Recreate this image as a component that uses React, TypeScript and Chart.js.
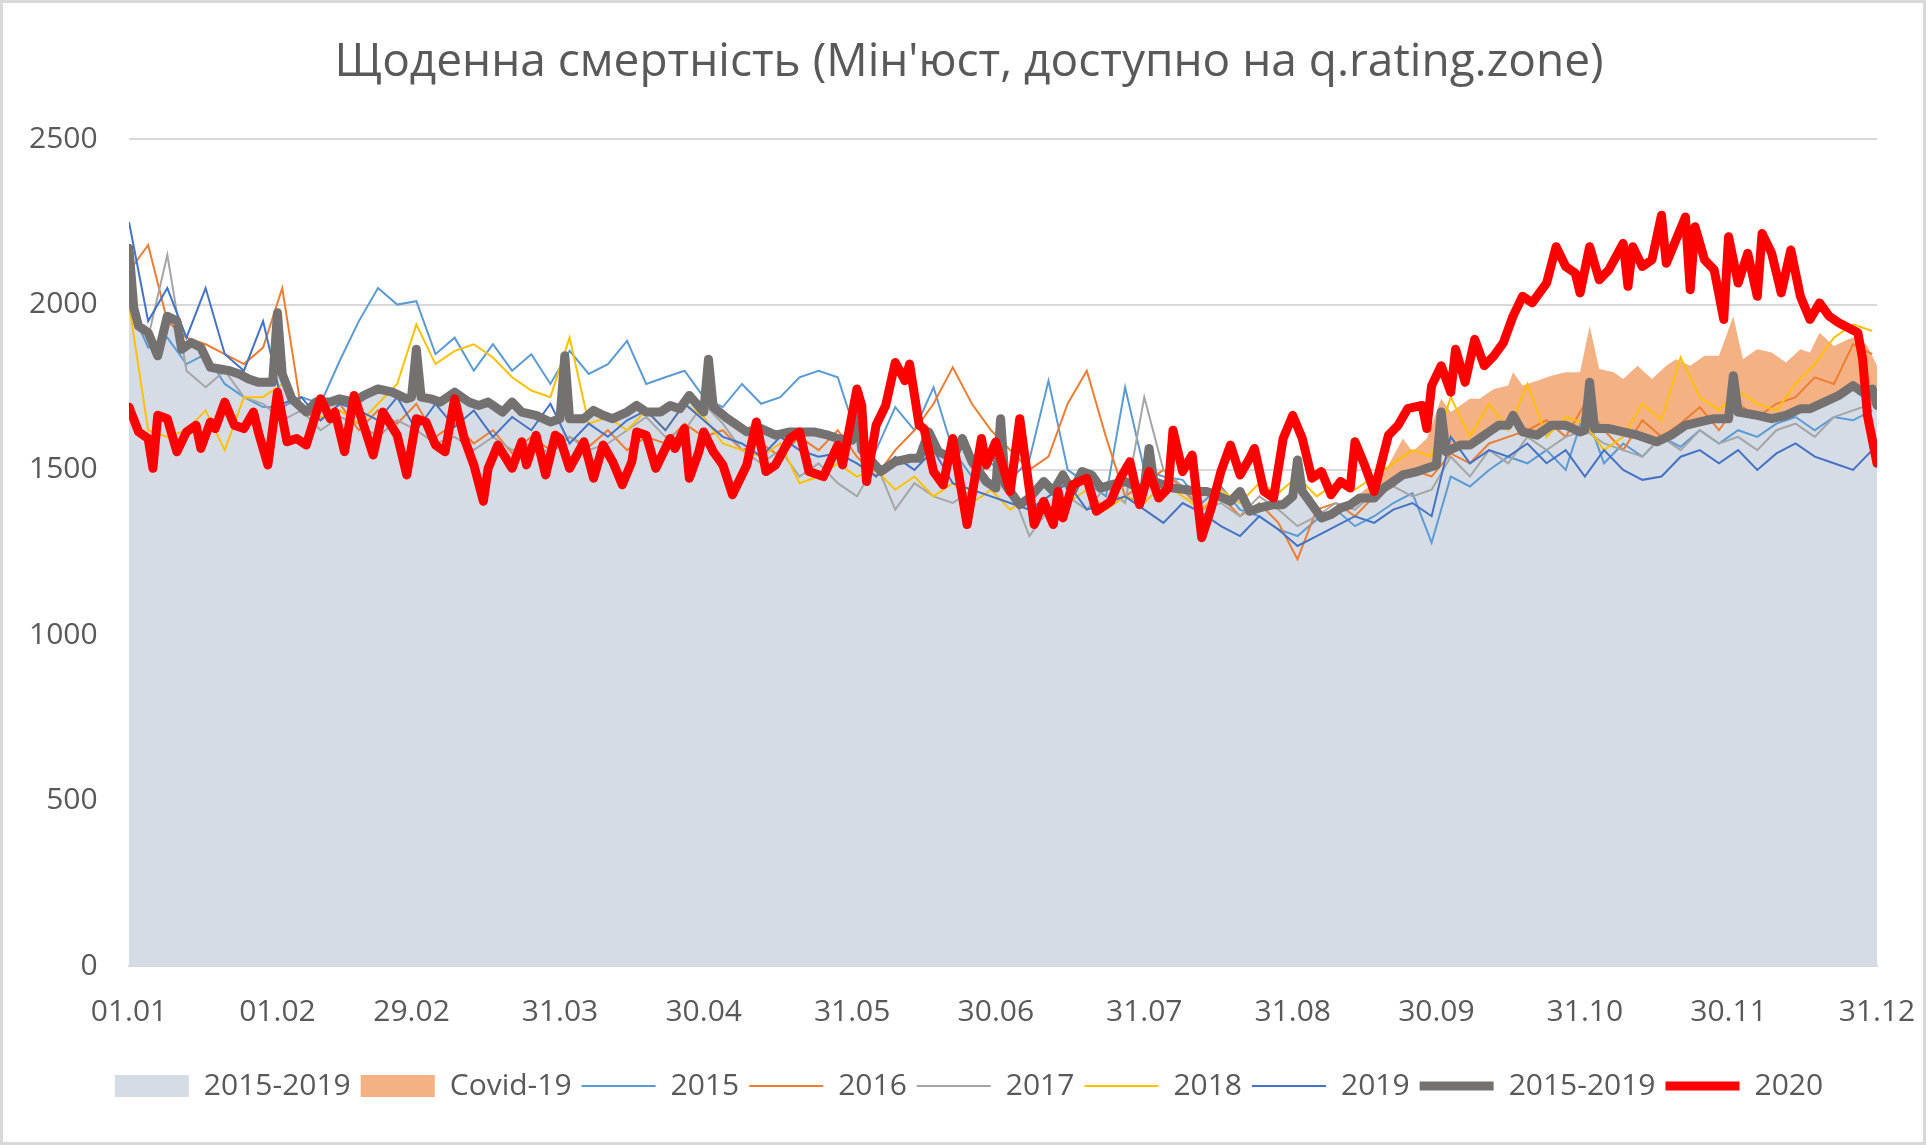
import { useEffect, useRef } from 'react';
import Chart from 'chart.js/auto';

// x axis: day of 2020 (0 = 01.01)
const tickDays = [0, 31, 59, 90, 120, 151, 181, 212, 243, 273, 304, 334, 365];
const tickLabels = ['01.01', '01.02', '29.02', '31.03', '30.04', '31.05', '30.06', '31.07', '31.08', '30.09', '31.10', '30.11', '31.12'];

// 2015-2019 average (area + thick line)
const avgDays = [
  0, 1, 2, 4, 6, 8, 10, 11, 13, 15, 17, 19, 21, 23, 25, 27, 30, 31, 32, 34, 37, 39, 42, 44, 47, 49, 52, 55, 58, 59,
  60, 61, 63, 65, 68, 71, 73, 75, 78, 80, 82, 85, 88, 90, 91, 92, 95, 97, 99, 101, 104, 106, 108, 111, 113, 115, 117, 120, 121, 122,
  125, 127, 129, 132, 135, 138, 140, 143, 146, 148, 151, 152, 153, 157, 160, 163, 165, 167, 169, 172, 174, 176, 179, 181, 182, 183, 186, 188, 191, 193,
  195, 197, 199, 201, 203, 205, 208, 211, 212, 213, 214, 218, 221, 223, 225, 227, 230, 232, 234, 236, 239, 241, 243, 244, 245, 249, 251, 253, 255, 257,
  260, 262, 264, 266, 269, 271, 273, 274, 275, 278, 280, 282, 284, 286, 288, 289, 291, 294, 297, 300, 303, 304, 305, 306, 309, 312, 315, 317, 319, 322,
  325, 328, 331, 334, 335, 336, 340, 343, 346, 349, 351, 354, 357, 360, 362, 364, 365
];
const avgValues = [
  2170, 1990, 1935, 1915, 1845, 1965, 1950, 1865, 1885, 1870, 1810, 1805, 1800, 1790, 1775, 1765, 1765, 1975, 1790, 1715, 1675, 1705, 1705, 1715, 1705, 1725, 1745, 1735, 1715, 1720,
  1865, 1720, 1715, 1705, 1735, 1705, 1695, 1705, 1675, 1705, 1675, 1665, 1645, 1655, 1845, 1655, 1655, 1680, 1665, 1655, 1675, 1695, 1675, 1675, 1695, 1685, 1725, 1675, 1835, 1690,
  1655, 1635, 1615, 1625, 1605, 1615, 1615, 1615, 1605, 1595, 1590, 1715, 1560, 1495, 1525, 1535, 1535, 1615, 1555, 1535, 1595, 1525, 1465, 1445, 1655, 1455, 1395, 1415, 1465, 1435,
  1485, 1435, 1495, 1485, 1445, 1455, 1465, 1445, 1450, 1565, 1465, 1445, 1440, 1435, 1435, 1425, 1405, 1435, 1375, 1385, 1395, 1395, 1420, 1530, 1435, 1355, 1365, 1385, 1395, 1415,
  1415, 1445, 1465, 1485, 1495, 1505, 1515, 1675, 1555, 1575, 1575, 1595, 1615, 1635, 1635, 1665, 1615, 1605, 1635, 1635, 1615, 1620, 1765, 1625, 1625, 1615, 1605, 1595, 1585, 1605,
  1635, 1645, 1655, 1655, 1785, 1675, 1665, 1655, 1665, 1685, 1685, 1705, 1725, 1755, 1735, 1745, 1695
];

// Covid-19 band top (average + reported covid deaths)
const covidDays = [
  250, 255, 258, 261, 263, 266, 268, 271, 274, 276, 278, 280, 282, 285, 288, 289, 291, 294, 297, 300, 303, 305, 307, 310, 312, 315, 318,
  321, 323, 326, 329, 332, 335, 337, 340, 343, 346, 349, 351, 353, 356, 359, 361, 363, 365
];
const covidTop = [
  1370, 1400, 1440, 1470, 1515, 1595, 1555, 1595, 1715, 1675, 1695, 1715, 1715, 1745, 1755, 1795, 1755, 1770, 1785, 1795, 1795, 1935, 1805, 1795, 1775, 1815, 1775,
  1815, 1835, 1815, 1845, 1845, 1965, 1835, 1865, 1855, 1825, 1865, 1855, 1915, 1875, 1895, 1905, 1875, 1815
];

// single years, sampled every 4 days
const yearDays = Array.from({ length: 92 }, (_, i) => i * 4);
const y2015 = [
  2000, 1870, 1900, 1820, 1850, 1760, 1720, 1690, 1690, 1720, 1700, 1830, 1950, 2050, 2000, 2010, 1850, 1900, 1800, 1880,
  1800, 1850, 1760, 1860, 1790, 1820, 1890, 1760, 1780, 1800, 1720, 1690, 1760, 1700, 1720, 1780, 1800, 1780, 1600, 1560,
  1690, 1620, 1750, 1560, 1480, 1520, 1470, 1530, 1770, 1500, 1460, 1420, 1750, 1500, 1480, 1470, 1400, 1450, 1380, 1360,
  1320, 1300, 1350, 1380, 1330, 1360, 1400, 1430, 1280, 1480, 1450, 1500, 1540, 1520, 1560, 1500, 1680, 1520, 1580, 1540,
  1600, 1570, 1620, 1580, 1620, 1600, 1640, 1660, 1620, 1660, 1650, 1680
];
const y2016 = [
  2100, 2180, 1950, 1900, 1880, 1850, 1820, 1870, 2050, 1680, 1650, 1700, 1620, 1680, 1640, 1700, 1600, 1640, 1580, 1620,
  1550, 1600, 1560, 1600, 1570, 1620, 1560, 1600, 1580, 1640, 1600, 1620, 1560, 1580, 1540, 1600, 1560, 1620, 1540, 1480,
  1560, 1620, 1700, 1810, 1700, 1620, 1560, 1500, 1540, 1700, 1800, 1600, 1420, 1460, 1500, 1440, 1380, 1420, 1360, 1400,
  1340, 1230, 1380, 1400, 1360, 1420, 1450, 1500, 1480, 1550, 1520, 1580, 1600, 1620, 1650, 1600, 1700, 1620, 1560, 1650,
  1600, 1640, 1690, 1620, 1700, 1660, 1700, 1720, 1780, 1760, 1880, 1850
];
const y2017 = [
  2000, 1900, 2150, 1800, 1750, 1800, 1720, 1700, 1650, 1680, 1620, 1660, 1640, 1600, 1650, 1620, 1580, 1600, 1560, 1600,
  1560, 1580, 1550, 1600, 1560, 1580, 1620, 1660, 1600, 1620, 1700, 1640, 1560, 1520, 1560, 1480, 1520, 1460, 1420, 1520,
  1380, 1460, 1420, 1400, 1440, 1580, 1450, 1300, 1380, 1420, 1380, 1450, 1400, 1720, 1500, 1450, 1380, 1400, 1360, 1420,
  1380, 1330, 1360, 1400, 1380, 1430, 1450, 1420, 1440, 1540, 1480, 1560, 1520, 1600, 1560, 1600, 1620, 1580, 1560, 1540,
  1600, 1560, 1620, 1580, 1600, 1560, 1620, 1640, 1600, 1660, 1680, 1700
];
const y2018 = [
  2000, 1620, 1600, 1620, 1680, 1560, 1720, 1720, 1760, 1700, 1660, 1680, 1640, 1700, 1760, 1940, 1820, 1860, 1880, 1840,
  1780, 1740, 1720, 1900, 1640, 1660, 1620, 1680, 1620, 1700, 1660, 1580, 1560, 1540, 1580, 1460, 1480, 1520, 1480, 1500,
  1440, 1480, 1420, 1460, 1400, 1440, 1380, 1420, 1460, 1400, 1440, 1380, 1420, 1400, 1460, 1420, 1380, 1440, 1400, 1460,
  1430, 1480, 1420, 1460, 1440, 1480, 1520, 1560, 1540, 1720, 1600, 1700, 1620, 1760, 1600, 1660, 1640, 1560, 1600, 1700,
  1650, 1840, 1720, 1680, 1740, 1700, 1680, 1760, 1820, 1900, 1940, 1920
];
const y2019 = [
  2250, 1950, 2050, 1900, 2050, 1850, 1800, 1950, 1700, 1720, 1650, 1700, 1680, 1650, 1720, 1620, 1700, 1630, 1680, 1600,
  1660, 1620, 1700, 1580, 1640, 1600, 1650, 1680, 1620, 1700, 1650, 1600, 1580, 1540, 1600, 1560, 1540, 1550, 1520, 1480,
  1540, 1500, 1560, 1460, 1440, 1420, 1400, 1380, 1420, 1460, 1380, 1400, 1420, 1380, 1340, 1400, 1370, 1330, 1300, 1360,
  1320, 1270, 1300, 1330, 1360, 1340, 1380, 1400, 1360, 1600, 1520, 1560, 1540, 1580, 1520, 1560, 1480, 1560, 1500, 1470,
  1480, 1540, 1560, 1520, 1560, 1500, 1550, 1580, 1540, 1520, 1500, 1560
];

// 2020
const days2020 = [
  0, 2, 4, 5, 6, 8, 10, 12, 14, 15, 17, 18, 20, 22, 24, 26, 27, 29, 31, 33, 35, 37, 40, 42, 43, 45, 47, 49, 51, 53,
  56, 58, 60, 62, 64, 66, 68, 70, 72, 74, 75, 77, 80, 82, 83, 85, 87, 89, 90, 92, 95, 97, 99, 101, 103, 105, 106, 108, 110, 113,
  114, 116, 117, 119, 120, 122, 124, 126, 129, 131, 133, 135, 138, 140, 142, 145, 148, 149, 152, 153, 154, 156, 158, 160, 162, 163, 165, 166, 168, 170,
  172, 175, 178, 179, 181, 184, 186, 189, 191, 193, 194, 195, 197, 200, 202, 205, 207, 209, 211, 213, 215, 217, 218, 220, 222, 224, 226, 228, 230, 232,
  234, 235, 237, 239, 241, 243, 245, 247, 249, 251, 253, 255, 256, 258, 260, 263, 265, 267, 270, 271, 272, 274, 276, 277, 279, 281, 283, 285, 287, 289,
  291, 293, 296, 298, 300, 302, 303, 305, 307, 309, 312, 313, 314, 316, 318, 320, 321, 325, 326, 327, 329, 331, 333, 334, 336, 338, 340, 341, 343, 345,
  347, 349, 351, 353, 355, 357, 359, 361, 362, 363, 365
];
const values2020 = [
  1690, 1615, 1595, 1505, 1665, 1655, 1555, 1615, 1635, 1565, 1645, 1625, 1705, 1635, 1625, 1675, 1615, 1515, 1735, 1585, 1595, 1575, 1715, 1655, 1675, 1555, 1725, 1635, 1545, 1675,
  1605, 1485, 1655, 1645, 1575, 1555, 1715, 1595, 1515, 1405, 1505, 1575, 1505, 1585, 1515, 1605, 1485, 1605, 1595, 1505, 1585, 1475, 1575, 1525, 1455, 1525, 1615, 1605, 1505, 1595,
  1565, 1625, 1475, 1555, 1615, 1555, 1515, 1425, 1515, 1645, 1495, 1515, 1595, 1615, 1495, 1480, 1575, 1515, 1745, 1695, 1465, 1635, 1695, 1825, 1770, 1820, 1635, 1625, 1495, 1455,
  1595, 1335, 1595, 1515, 1585, 1435, 1655, 1335, 1405, 1335, 1435, 1355, 1455, 1475, 1375, 1405, 1475, 1525, 1395, 1495, 1415, 1445, 1620, 1495, 1545, 1295, 1385, 1495, 1575, 1485,
  1535, 1565, 1435, 1415, 1595, 1665, 1595, 1475, 1495, 1425, 1465, 1445, 1585, 1515, 1435, 1605, 1635, 1685, 1695, 1625, 1755, 1815, 1735, 1865, 1765, 1895, 1815, 1845, 1885, 1965,
  2025, 2005, 2065, 2175, 2115, 2095, 2035, 2175, 2075, 2105, 2185, 2055, 2175, 2115, 2135, 2270, 2125, 2265, 2045, 2235, 2135, 2105, 1955, 2205, 2065, 2155, 2025, 2215, 2155, 2035,
  2165, 2025, 1955, 2005, 1965, 1945, 1930, 1915, 1835, 1665, 1520
];

const toPoints = (days: number[], values: number[]) => days.map((x, i) => ({ x, y: values[i] }));

const thinLine = (label: string, values: number[], color: string, order: number) => ({
  label,
  data: toPoints(yearDays, values),
  borderColor: color,
  backgroundColor: color,
  borderWidth: 2,
  pointRadius: 0,
  pointStyle: 'line',
  fill: false,
  order
});

const frame = {
  id: 'frame',
  afterDraw(chart: Chart) {
    const { ctx, width, height } = chart;
    ctx.save();
    ctx.strokeStyle = '#d9d9d9';
    ctx.lineWidth = 3;
    ctx.strokeRect(1.5, 1.5, width - 3, height - 3);
    ctx.restore();
  }
};

export default function App() {
  const canvasRef = useRef<HTMLCanvasElement>(null);

  useEffect(() => {
    if (!canvasRef.current) return;
    Chart.defaults.font.family = '"Open Sans", sans-serif';

    const chart = new Chart(canvasRef.current, {
      type: 'line',
      data: {
        datasets: [
          {
            label: '2015-2019',
            data: toPoints(avgDays, avgValues),
            fill: 'origin',
            backgroundColor: '#d6dce5',
            borderColor: 'transparent',
            borderWidth: 0,
            pointRadius: 0,
            pointStyle: 'rect',
            order: 10
          },
          {
            label: 'Covid-19',
            data: toPoints(covidDays, covidTop),
            fill: '-1',
            backgroundColor: '#f4b183',
            borderColor: 'transparent',
            borderWidth: 0,
            pointRadius: 0,
            pointStyle: 'rect',
            order: 9
          },
          thinLine('2015', y2015, '#5b9bd5', 8),
          thinLine('2016', y2016, '#ed7d31', 7),
          thinLine('2017', y2017, '#a5a5a5', 6),
          thinLine('2018', y2018, '#ffc000', 5),
          thinLine('2019', y2019, '#4472c4', 4),
          {
            label: '2015-2019',
            data: toPoints(avgDays, avgValues),
            borderColor: '#767171',
            backgroundColor: '#767171',
            borderWidth: 9,
            borderJoinStyle: 'round',
            borderCapStyle: 'round',
            pointRadius: 0,
            pointStyle: 'line',
            fill: false,
            order: 1
          },
          {
            label: '2020',
            data: toPoints(days2020, values2020),
            borderColor: '#ff0000',
            backgroundColor: '#ff0000',
            borderWidth: 9,
            borderJoinStyle: 'round',
            borderCapStyle: 'round',
            pointRadius: 0,
            pointStyle: 'line',
            fill: false,
            order: 0
          }
        ]
      },
      options: {
        responsive: false,
        animation: false,
        layout: { padding: { top: 10, right: 49, bottom: 34, left: 61 } },
        plugins: {
          title: {
            display: true,
            text: "Щоденна смертність (Мін'юст, доступно на q.rating.zone)",
            color: '#595959',
            font: { size: 46, weight: 'normal' },
            padding: { top: 25, bottom: 49 }
          },
          legend: {
            position: 'bottom',
            labels: {
              usePointStyle: true,
              pointStyleWidth: 74,
              boxHeight: 22,
              padding: 10,
              color: '#595959',
              font: { size: 30 },
              sort: (a, b) => (a.datasetIndex ?? 0) - (b.datasetIndex ?? 0)
            }
          },
          tooltip: { enabled: false }
        },
        scales: {
          x: {
            type: 'linear',
            min: 0,
            max: 365,
            afterBuildTicks: (scale) => {
              scale.ticks = tickDays.map((value) => ({ value }));
            },
            afterFit: (scale) => {
              scale.height = 95;
            },
            ticks: {
              autoSkip: false,
              maxRotation: 0,
              padding: 0,
              color: '#595959',
              font: { size: 30 },
              callback: (_value, index) => tickLabels[index]
            },
            grid: { display: false, drawTicks: true, tickLength: 28 },
            border: { display: true, color: '#d9d9d9', width: 2 }
          },
          y: {
            min: 0,
            max: 2500,
            afterFit: (scale) => {
              scale.width = 68;
            },
            ticks: {
              stepSize: 500,
              mirror: true,
              crossAlign: 'far',
              padding: -100,
              color: '#595959',
              font: { size: 30 },
              callback: (value) => String(value)
            },
            grid: { color: '#d9d9d9', lineWidth: 2, drawTicks: false },
            border: { display: false }
          }
        }
      },
      plugins: [frame]
    });

    return () => {
      chart.destroy();
    };
  }, []);

  return (
    <div style={{ position: 'absolute', left: 0, top: 0, width: 1926, height: 1145, background: '#ffffff' }}>
      <canvas ref={canvasRef} width={1926} height={1145} />
    </div>
  );
}
